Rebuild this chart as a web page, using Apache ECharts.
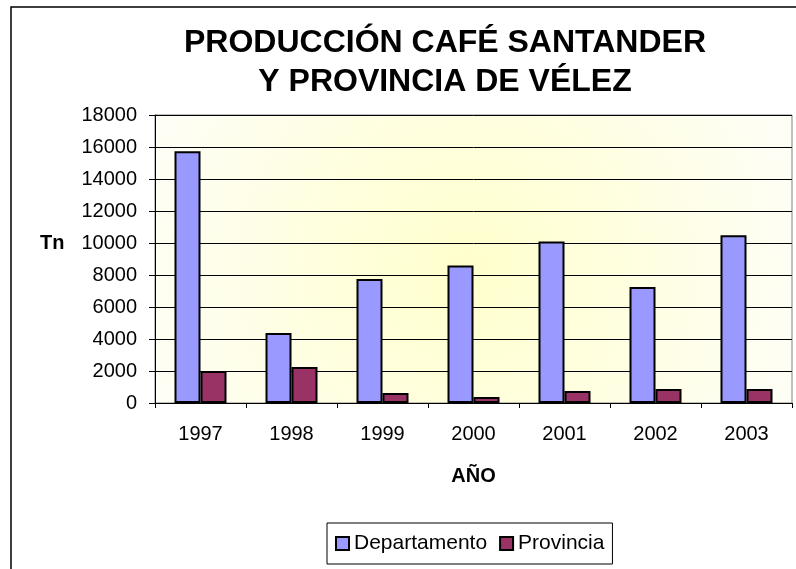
<!DOCTYPE html>
<html>
<head>
<meta charset="utf-8">
<script src="https://cdn.jsdelivr.net/npm/echarts@6/dist/echarts.min.js"></script>
<style>
html, body { margin: 0; padding: 0; background: #fff; }
#chart { width: 796px; height: 569px; }
</style>
</head>
<body>
<div id="chart"></div>
<script>
/* datos */
var anios = ['1997', '1998', '1999', '2000', '2001', '2002', '2003'];
var departamento = [15730, 4380, 7750, 8600, 10100, 7250, 10480];
var provincia = [2000, 2250, 625, 375, 750, 875, 875];
var yMin = 0, yMax = 18000, yStep = 2000;

var fuente = '"Liberation Sans", Arial, sans-serif';

var chart = echarts.init(document.getElementById('chart'));
var option = {
    backgroundColor: '#ffffff',
    animation: false,
    textStyle: { fontFamily: fuente },
    graphic: [{
        type: 'rect',
        shape: { x: 11, y: 7, width: 1000, height: 1000 },
        style: { fill: 'none', stroke: '#000', lineWidth: 1.5 },
        silent: true
    }],
    title: [{
        text: 'PRODUCCIÓN CAFÉ SANTANDER\nY PROVINCIA DE VÉLEZ',
        left: 445,
        top: 24,
        padding: 0,
        textAlign: 'center',
        textStyle: {
            fontFamily: fuente,
            fontSize: 32,
            fontWeight: 'bold',
            color: '#000',
            lineHeight: 39
        }
    }, {
        // nombre del eje Y
        text: 'Tn',
        left: 40,
        top: 233,
        padding: 0,
        textStyle: { fontFamily: fuente, fontSize: 20, fontWeight: 'bold', color: '#000' }
    }],
    legend: {
        left: 327,
        top: 523,
        padding: [10, 8, 10, 8],
        borderColor: '#000',
        borderWidth: 1,
        itemWidth: 13,
        itemHeight: 13,
        itemGap: 12,
        icon: 'rect',
        textStyle: { fontFamily: fuente, fontSize: 21, color: '#000' },
        data: ['Departamento', 'Provincia']
    },
    grid: {
        left: 155,
        top: 115,
        right: 4,
        bottom: 166,
        containLabel: false,
        outerBoundsMode: 'none',
        show: true,
        borderColor: '#808080',
        borderWidth: 1,
        backgroundColor: {
            type: 'radial',
            x: 0.49, y: 0.54, r: 1.2,
            colorStops: [
                { offset: 0, color: '#ffffcc' },
                { offset: 1, color: '#fefef7' }
            ]
        }
    },
    xAxis: {
        type: 'category',
        data: anios,
        name: 'AÑO',
        nameLocation: 'middle',
        nameGap: 63,
        nameTextStyle: { fontFamily: fuente, fontSize: 20, fontWeight: 'bold', color: '#000' },
        axisLine: { lineStyle: { color: '#000', width: 1 } },
        axisTick: { show: true, length: 5, lineStyle: { color: '#000' } },
        axisLabel: { fontFamily: fuente, fontSize: 20, color: '#000', margin: 21 }
    },
    yAxis: {
        type: 'value',
        min: yMin,
        max: yMax,
        interval: yStep,
        axisLine: { show: true, lineStyle: { color: '#000', width: 1 } },
        axisTick: { show: true, length: 6, lineStyle: { color: '#000' } },
        axisLabel: {
            fontFamily: fuente, fontSize: 20, color: '#000', margin: 18,
            formatter: function (v) { return String(v); }
        },
        splitLine: { show: true, lineStyle: { color: '#000', width: 1 } }
    },
    series: [{
        name: 'Departamento',
        type: 'bar',
        data: departamento,
        barWidth: 26,
        barGap: '0%',
        itemStyle: { color: '#9999ff', borderColor: '#000', borderWidth: 2 }
    }, {
        name: 'Provincia',
        type: 'bar',
        data: provincia,
        barWidth: 26,
        itemStyle: { color: '#993366', borderColor: '#000', borderWidth: 2 }
    }]
};
chart.setOption(option);
</script>
</body>
</html>
